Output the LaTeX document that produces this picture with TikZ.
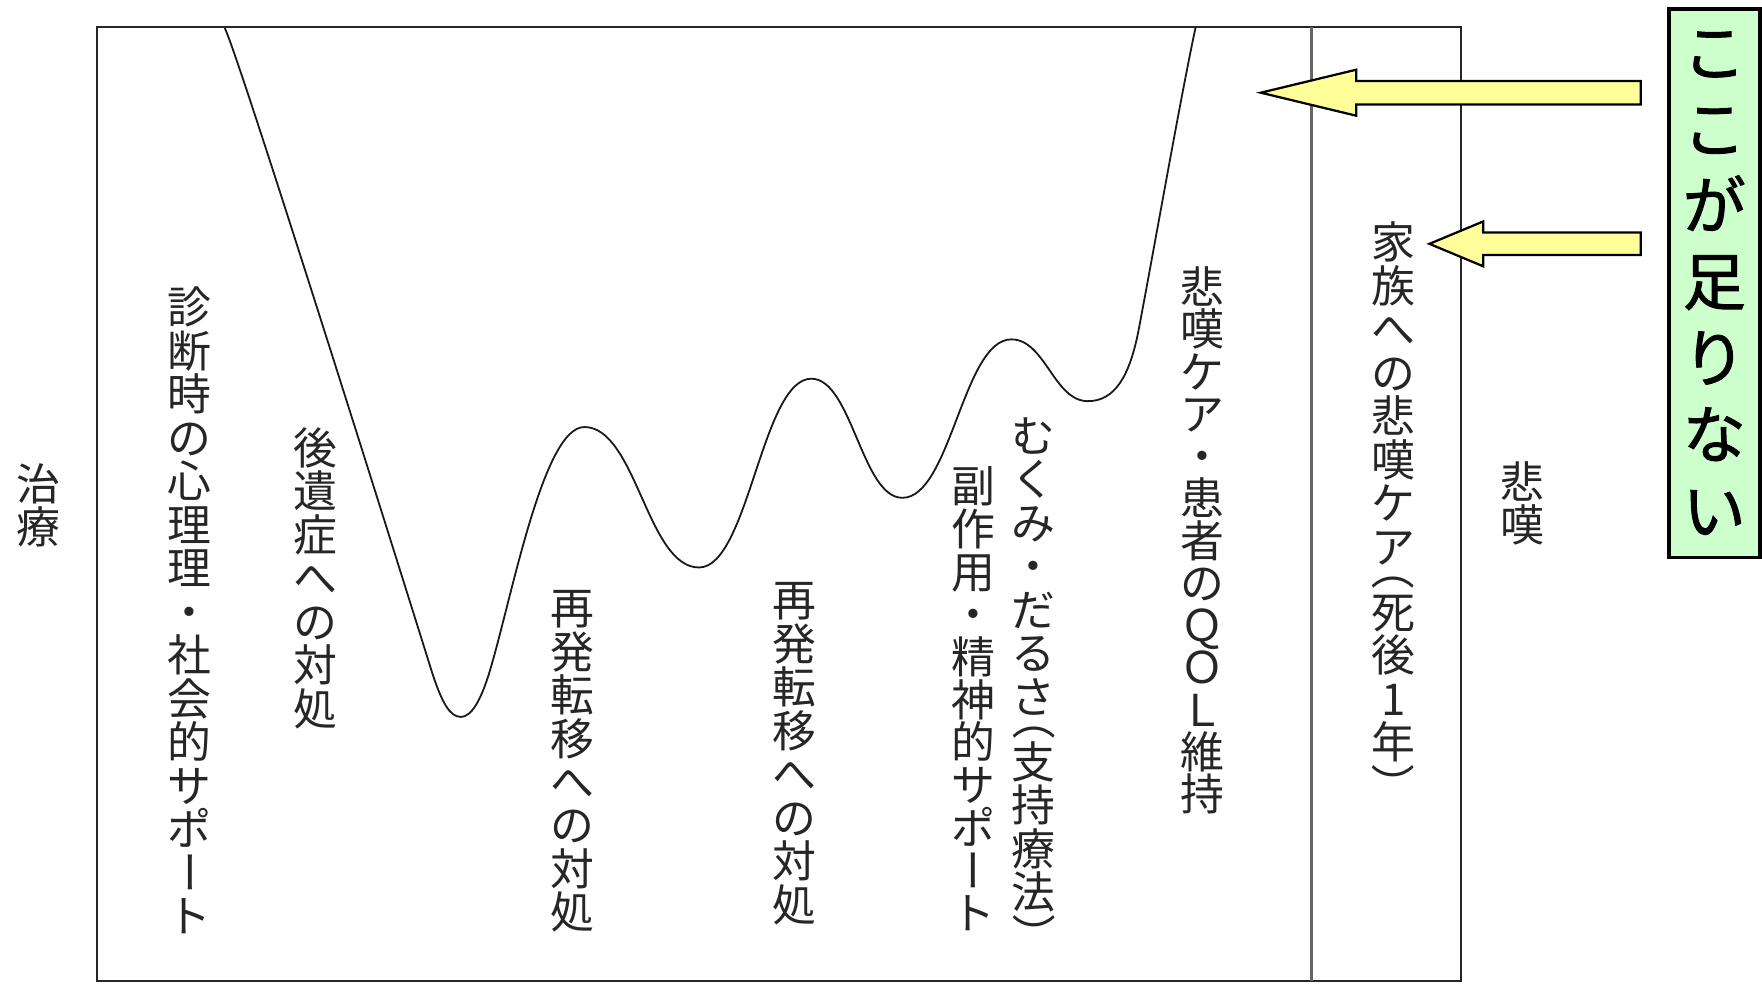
\documentclass[tikz,border=0pt]{standalone}
\usepackage{fontspec}
\usepackage{graphicx}
\newfontfamily\jp{Noto Sans CJK JP}
\newfontfamily\jpb{Noto Sans CJK JP}[FakeBold=1.5]
\newcommand\vc[1]{\hbox to 1em{\hss#1\hss}}
\newcommand\vrot[1]{\hbox to 1em{\hss\rotatebox[origin=c]{-90}{\raisebox{0pt}[0.88em][0.12em]{#1}}\hss}}
\newcommand\vlp{\vskip-0.5\baselineskip\vrot{（}}
\newcommand\vrp{\vrot{）}}
\newcommand\vbr{\vrot{ー}}
\newcommand\vstack[1]{\vbox{\lineskiplimit=-\maxdimen\lineskip=0pt #1}}
\definecolor{txt}{HTML}{262626}
\definecolor{gbox}{HTML}{CCFFCC}
\definecolor{yarrow}{HTML}{FFFF99}
\tikzset{
  vlab/.style={font=\jp\fontsize{19.5pt}{19.35pt}\selectfont, text=txt, inner sep=0pt, anchor=north},
  framel/.style={draw=black!85, line width=1pt},
  divl/.style={draw=black!60, line width=1.2pt},
  curvel/.style={draw=black!90, line width=0.8pt},
  yarr/.style={fill=yarrow, draw=black, line width=1pt, line join=miter},
  greenbox/.style={draw=black, fill=gbox, line width=1.6pt, inner sep=0pt,
    minimum width=40.5pt, minimum height=244pt,
    font=\jpb\fontsize{28pt}{34pt}\selectfont, text=black}
}
\begin{document}
\begin{tikzpicture}[x=0.5pt, y=-0.5pt]
\useasboundingbox[fill=white] (0,0) rectangle (1568,877);

% frame
\draw[framel] (86,24) rectangle (1300,873);
\draw[divl] (1167,24) -- (1167,873);

% curve
\draw[curvel] (200,25) .. controls (212,48) and (360,520) .. (385,600)
 .. controls (393,624) and (400,638) .. (410,638)
 .. controls (420,638) and (428,622) .. (435,600)
 .. controls (455,535) and (483,380) .. (520,380)
 .. controls (566,380) and (576,505) .. (622,505)
 .. controls (666,505) and (678,337) .. (722,337)
 .. controls (758,337) and (767,443) .. (803,443)
 .. controls (846,443) and (857,302) .. (900,302)
 .. controls (930,302) and (938,357) .. (968,357)
 .. controls (992,357) and (1005,335) .. (1013,295)
 .. controls (1030,205) and (1050,90) .. (1064,24);

% labels
\node[vlab] (chiryo) at (34,412) {\vstack{\vc{治}\vc{療}}};
\node[vlab] (shindan) at (169,255) {\vstack{\vc{診}\vc{断}\vc{時}\vc{の}\vc{心}\vc{理}\vc{理}\vc{・}\vc{社}\vc{会}\vc{的}\vc{サ}\vc{ポ}\vbr\vc{ト}}};
\node[vlab] (kouisho) at (281,380) {\vstack{\vc{後}\vc{遺}\vc{症}\vc{へ}\vc{の}\vc{対}\vc{処}}};
\node[vlab] (saihatsu1) at (509,525) {\vstack{\vc{再}\vc{発}\vc{転}\vc{移}\vc{へ}\vc{の}\vc{対}\vc{処}}};
\node[vlab] (saihatsu2) at (707,518) {\vstack{\vc{再}\vc{発}\vc{転}\vc{移}\vc{へ}\vc{の}\vc{対}\vc{処}}};
\node[vlab, font=\jp\fontsize{19.5pt}{19pt}\selectfont] (fukusayo) at (866,415) {\vstack{\vc{副}\vc{作}\vc{用}\vc{・}\vc{精}\vc{神}\vc{的}\vc{サ}\vc{ポ}\vbr\vc{ト}}};
\node[vlab] (mukumi) at (920,371) {\vstack{\vc{む}\vc{く}\vc{み}\vc{・}\vc{だ}\vc{る}\vc{さ}\vlp\vc{支}\vc{持}\vc{療}\vc{法}\vrp}};
\node[vlab, font=\jp\fontsize{19.5pt}{18.8pt}\selectfont] (hitanqol) at (1070,237) {\vstack{\vc{悲}\vc{嘆}\vc{ケ}\vc{ア}\vc{・}\vc{患}\vc{者}\vc{の}\vc{Ｑ}\vc{Ｏ}\vc{Ｌ}\vc{維}\vc{持}}};
\node[vlab] (kazoku) at (1240,197) {\vstack{\vc{家}\vc{族}\vc{へ}\vc{の}\vc{悲}\vc{嘆}\vc{ケ}\vc{ア}\vlp\vc{死}\vc{後}\vc{1}\vc{年}\vrp}};
\node[vlab] (hitan) at (1355,410) {\vstack{\vc{悲}\vc{嘆}}};

% green box
\node[greenbox] (note) at (1525.5,252) {\vstack{\vc{こ}\vc{こ}\vc{が}\vc{足}\vc{り}\vc{な}\vc{い}}};

% yellow arrows
\coordinate (tip1) at (1122,82.5);
\coordinate (tip2) at (1272,217);
\draw[yarr] (1460,72) -- (1207,72) -- (1207,62) -- (tip1) -- (1207,103) -- (1207,93) -- (1460,93) -- cycle;
\draw[yarr] (1460,207) -- (1320,207) -- (1320,197) -- (tip2) -- (1320,237) -- (1320,227) -- (1460,227) -- cycle;
\end{tikzpicture}
\end{document}
